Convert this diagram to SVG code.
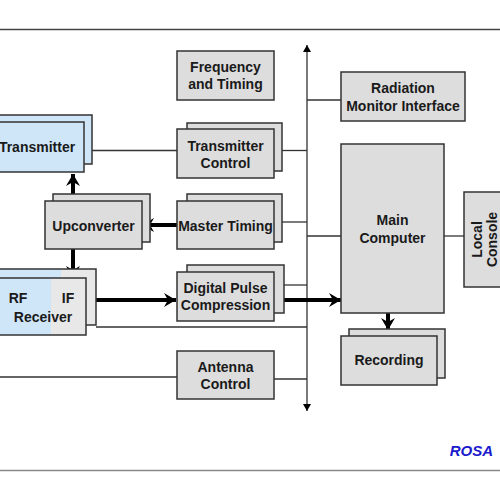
<svg xmlns="http://www.w3.org/2000/svg" width="500" height="500" viewBox="0 0 500 500">
<defs>
<style>
.box{fill:#dddddd;stroke:#333;stroke-width:1.5}
.blue{fill:#cfe6f8;stroke:#333;stroke-width:1.5}
.lt{fill:#e8e8e8;stroke:none}
.t{font-family:"Liberation Sans",Arial,sans-serif;font-weight:bold;font-size:14px;fill:#1a1a1a;text-anchor:middle}
.thin{stroke:#333;stroke-width:1.3;fill:none}
.thick{stroke:#000;stroke-width:4;fill:none}
</style>
<marker id="ah" markerUnits="userSpaceOnUse" markerWidth="14" markerHeight="14" refX="12" refY="7" orient="auto">
<path d="M0,0 L12,7 L0,14 L4,7 Z" fill="#000"/>
</marker>
<marker id="sa" markerUnits="userSpaceOnUse" markerWidth="8" markerHeight="8" refX="7" refY="4" orient="auto-start-reverse">
<path d="M0,0 L7,4 L0,8 Z" fill="#000"/>
</marker>
</defs>
<rect width="500" height="500" fill="#fff"/>
<g id="frame">
<line x1="0" y1="29.5" x2="500" y2="29.5" stroke="#444" stroke-width="1.5"/>
<line x1="0" y1="470.5" x2="500" y2="470.5" stroke="#888" stroke-width="1.5"/>
</g>
<g id="connectors">
<line class="thin" x1="307" y1="45" x2="307" y2="411" marker-start="url(#sa)" marker-end="url(#sa)"/>
<line class="thin" x1="84" y1="150.5" x2="177" y2="150.5"/>
<line class="thin" x1="282" y1="150.5" x2="307" y2="150.5"/>
<line class="thin" x1="307" y1="100" x2="341" y2="100"/>
<line class="thin" x1="282" y1="222" x2="307" y2="222"/>
<line class="thin" x1="307" y1="236" x2="341" y2="236"/>
<line class="thin" x1="444" y1="236" x2="464" y2="236"/>
<line class="thin" x1="284" y1="285" x2="307" y2="285"/>
<line class="thin" x1="96" y1="327" x2="307" y2="327"/>
<line class="thin" x1="0" y1="377" x2="177" y2="377"/>
<line class="thin" x1="274" y1="379" x2="307" y2="379"/>
<line class="thick" x1="73" y1="201" x2="73" y2="174" marker-end="url(#ah)"/>
<line class="thick" x1="73" y1="249" x2="73" y2="278" marker-end="url(#ah)"/>
<line class="thick" x1="177" y1="225" x2="142" y2="225" marker-end="url(#ah)"/>
<line class="thick" x1="86" y1="300" x2="176" y2="300" marker-end="url(#ah)"/>
<line class="thick" x1="274" y1="300" x2="341" y2="300" marker-end="url(#ah)"/>
<line class="thick" x1="388" y1="313" x2="388" y2="330" marker-end="url(#ah)"/>
</g>
<g id="freq">
<rect class="box" x="177" y="51" width="97" height="49"/>
<text class="t" x="225.5" y="72">Frequency</text>
<text class="t" x="225.5" y="89">and Timing</text>
</g>
<g id="transmitter">
<rect class="blue" x="-10" y="115" width="102" height="49"/>
<rect class="blue" x="-10" y="122" width="94" height="50"/>
<text class="t" x="37" y="152">Transmitter</text>
</g>
<g id="txcontrol">
<rect class="box" x="187" y="123" width="95" height="48"/>
<rect class="box" x="177" y="129" width="97" height="49"/>
<text class="t" x="225.5" y="151">Transmitter</text>
<text class="t" x="225.5" y="168">Control</text>
</g>
<g id="radmon">
<rect class="box" x="341" y="72" width="124" height="49"/>
<text class="t" x="403" y="93">Radiation</text>
<text class="t" x="403" y="111">Monitor Interface</text>
</g>
<g id="upconverter">
<rect class="box" x="53" y="194" width="97" height="48"/>
<rect class="box" x="45" y="201" width="97" height="48"/>
<text class="t" x="93.5" y="231">Upconverter</text>
</g>
<g id="mastertiming">
<rect class="box" x="187" y="194" width="95" height="48"/>
<rect class="box" x="177" y="201" width="97" height="48"/>
<text class="t" x="225.5" y="231">Master Timing</text>
</g>
<g id="maincomputer">
<rect class="box" x="341" y="144" width="103" height="169"/>
<text class="t" x="392.5" y="225">Main</text>
<text class="t" x="392.5" y="243">Computer</text>
</g>
<g id="localconsole">
<rect class="box" x="464" y="192" width="46" height="95"/>
<text class="t" transform="translate(482,239.5) rotate(-90)">Local</text>
<text class="t" transform="translate(497,239.5) rotate(-90)">Console</text>
</g>
<g id="receiver">
<rect class="lt" x="-10" y="269" width="106" height="56"/>
<rect fill="#cfe6f8" x="-10" y="269" width="71" height="56"/>
<rect x="-10" y="269" width="106" height="56" fill="none" stroke="#333" stroke-width="1.5"/>
<rect class="lt" x="-10" y="278" width="96" height="57"/>
<rect fill="#cfe6f8" x="-10" y="278" width="61" height="57"/>
<rect x="-10" y="278" width="96" height="57" fill="none" stroke="#333" stroke-width="1.5"/>
<text class="t" x="18" y="303">RF</text>
<text class="t" x="68" y="303">IF</text>
<text class="t" x="43" y="322">Receiver</text>
</g>
<g id="dpc">
<rect class="box" x="187" y="265" width="97" height="48"/>
<rect class="box" x="177" y="272" width="97" height="49"/>
<text class="t" x="225.5" y="293">Digital Pulse</text>
<text class="t" x="225.5" y="310">Compression</text>
</g>
<g id="recording">
<rect class="box" x="349" y="329" width="96" height="49"/>
<rect class="box" x="341" y="336" width="96" height="49"/>
<text class="t" x="389" y="365">Recording</text>
</g>
<g id="antenna">
<rect class="box" x="177" y="351" width="97" height="48"/>
<text class="t" x="225.5" y="372">Antenna</text>
<text class="t" x="225.5" y="389">Control</text>
</g>
<text x="493" y="456" font-family="Liberation Sans,Arial,sans-serif" font-weight="bold" font-style="italic" font-size="15" fill="#1a1acc" text-anchor="end">ROSA</text>
</svg>
